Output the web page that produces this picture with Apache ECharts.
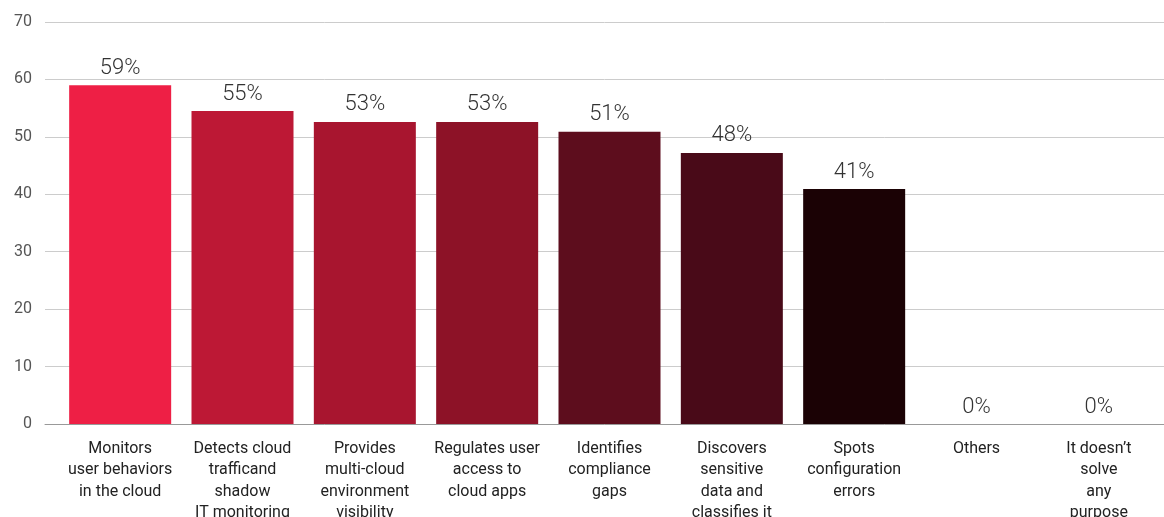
<!DOCTYPE html>
<html>
<head>
<meta charset="utf-8">
<script src="https://cdn.jsdelivr.net/npm/echarts@6/dist/echarts.min.js"></script>
<style>
  html, body { margin: 0; padding: 0; background: #fff; }
  #container { width: 1164px; height: 517px; }
</style>
</head>
<body>
<div id="container"></div>
<script>
var dom = document.getElementById('container');
var myChart = echarts.init(dom, null, { renderer: 'canvas' });

// 数据
var categories = [
  'Monitors\nuser behaviors\nin the cloud',
  'Detects cloud\ntrafficand\nshadow\nIT monitoring',
  'Provides\nmulti-cloud\nenvironment\nvisibility',
  'Regulates user\naccess to\ncloud apps',
  'Identifies\ncompliance\ngaps',
  'Discovers\nsensitive\ndata and\nclassifies it',
  'Spots\nconfiguration\nerrors',
  'Others',
  'It doesn’t\nsolve\nany\npurpose'
];
var values = [59, 54.5, 52.6, 52.6, 50.9, 47.2, 40.9, 0, 0];
var valueLabels = ['59%', '55%', '53%', '53%', '51%', '48%', '41%', '0%', '0%'];
var barColors = ['#EE1F45', '#BD1835', '#A8152F', '#8D1227', '#5D0D1D', '#490A18', '#1B0205', '#999', '#999'];
var yTicks = [0, 10, 20, 30, 40, 50, 60, 70];

var fontName = 'Roboto';

var barData = values.map(function (v, i) {
  return { value: v, itemStyle: { color: barColors[i] } };
});

var option = {
  animation: false,
  grid: [
    { left: 45, right: 0, top: 22, bottom: 93, outerBoundsMode: 'none' },
    { left: 59, right: 4, top: 22, bottom: 93, outerBoundsMode: 'none' }
  ],
  xAxis: [
    {
      gridIndex: 0, type: 'category', data: categories,
      show: true,
      axisLine: { show: true, lineStyle: { color: '#999', width: 1 } },
      axisTick: { show: false },
      axisLabel: { show: false }
    },
    {
      gridIndex: 1, type: 'category', data: categories,
      axisLine: { show: false },
      axisTick: { show: false },
      axisLabel: {
        interval: 0, margin: 14,
        color: '#222', fontSize: 16, lineHeight: 21.5,
        fontFamily: fontName
      }
    }
  ],
  yAxis: [
    {
      gridIndex: 0, type: 'value', min: 0, max: 70, interval: 10,
      axisLine: { show: false },
      axisTick: { show: false },
      axisLabel: { margin: 13, color: '#555', fontSize: 16, fontFamily: fontName },
      splitLine: { lineStyle: { color: '#cccccc', width: 1 } }
    },
    {
      gridIndex: 1, type: 'value', min: 0, max: 70, interval: 10,
      show: false
    }
  ],
  series: [
    {
      type: 'bar',
      xAxisIndex: 1,
      yAxisIndex: 1,
      data: barData,
      barWidth: 102,
      label: {
        show: true,
        position: 'top',
        distance: 6,
        color: '#333',
        fontSize: 22,
        fontWeight: 300,
        fontFamily: fontName,
        formatter: function (p) { return valueLabels[p.dataIndex]; }
      }
    }
  ]
};

myChart.setOption(option);
window.addEventListener('resize', myChart.resize);
</script>
</body>
</html>
